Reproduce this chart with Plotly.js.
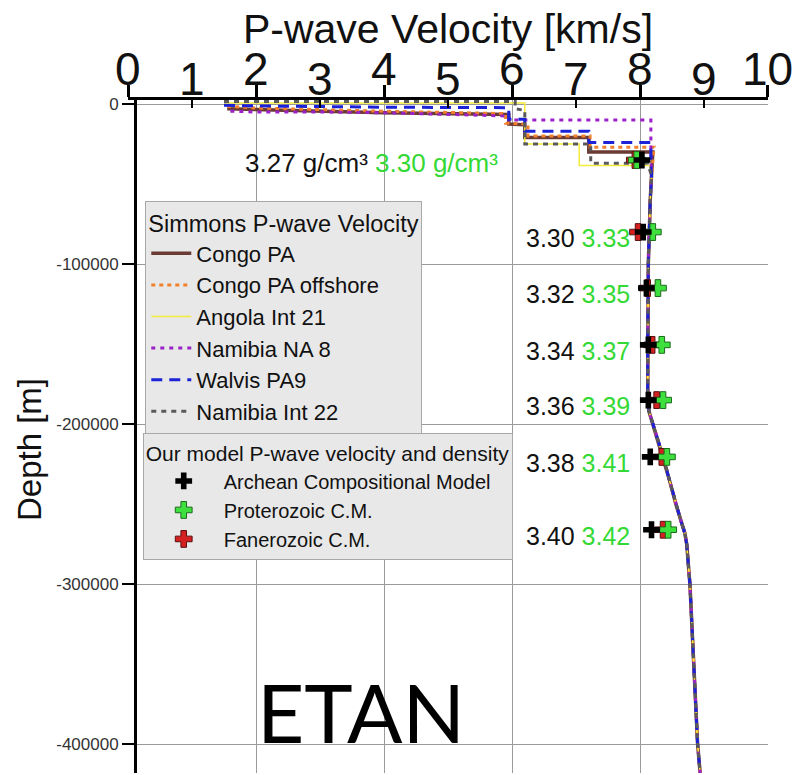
<!DOCTYPE html>
<html>
<head>
<meta charset="utf-8">
<script src="https://cdn.plot.ly/plotly-3.0.1.min.js"></script>
<style>html,body{margin:0;padding:0;background:#fff;}#chart{width:792px;height:775px;}</style>
</head>
<body>
<div id="chart"></div>
<script>
// ---- Simmons P-wave velocity profiles (velocity km/s, depth m) ----
const velCongoPA = [1.55, 2.0, 4.0, 5.95, 5.95, 6.2, 6.2, 7.2, 7.2, 8.2];
const depCongoPA = [-3000, -3500, -5500, -6500, -12500, -13000, -21000, -21000, -30000, -30000];

const velCongoOff = [1.55, 2.0, 4.0, 5.9, 5.9, 6.25, 6.25, 7.22, 7.22, 8.22];
const depCongoOff = [-1500, -2500, -4500, -6000, -12000, -12500, -20000, -20000, -27000, -27000];

const velAngola = [1.5, 6.2, 6.2, 7.05, 7.05, 8.15];
const depAngola = [700, 700, -25000, -25000, -38500, -38500];

const velNamibiaNA8 = [1.6, 2.0, 3.0, 4.0, 5.0, 5.95, 5.95, 8.17, 8.17];
const depNamibiaNA8 = [-4500, -5000, -5000, -5500, -6500, -7500, -10000, -10000, -30000];

const velWalvis = [1.5, 2.0, 4.0, 5.95, 5.95, 6.2, 6.2, 7.2, 7.2, 8.17, 8.17];
const depWalvis = [-800, -1200, -2000, -2300, -9500, -9500, -17000, -17000, -24000, -24000, -35000];

const velNamibiaInt22 = [1.5, 6.05, 6.05, 6.2, 6.2, 7.23, 7.23, 8.12];
const depNamibiaInt22 = [1500, 1500, -3000, -4000, -25000, -25000, -37000, -37000];

// common mantle part
const velMantle = [8.18, 8.16, 8.13, 8.12, 8.12, 8.14, 8.2, 8.28, 8.36, 8.46, 8.56, 8.65, 8.70, 8.73, 8.78, 8.84, 8.90, 8.94];
const depMantle = [-45000, -60000, -100000, -150000, -185000, -192000, -200000, -210000, -220000, -235000, -250000, -262000, -268000, -275000, -300000, -350000, -400000, -418000];

// ---- Our model markers ----
const markerDepth = [-35000, -80000, -115000, -150500, -185000, -220500, -266000];
const velArchean = [8.03, 8.05, 8.10, 8.13, 8.13, 8.16, 8.18];
const velProterozoic = [7.95, 8.20, 8.28, 8.34, 8.36, 8.42, 8.44];
const velFanerozoic = [7.92, 7.97, 8.12, 8.19, 8.26, 8.34, 8.36];
const densArchean = ['3.27', '3.30', '3.32', '3.34', '3.36', '3.38', '3.40'];
const densProterozoic = ['3.30', '3.33', '3.35', '3.37', '3.39', '3.41', '3.42'];

// ---- axis ticks ----
const xMajorTicks = [0, 2, 4, 6, 8, 10];
const xMinorTicks = [1, 3, 5, 7, 9];
const yTicks = [0, -100000, -200000, -300000, -400000];
const yTickLabels = ['0', '-100000', '-200000', '-300000', '-400000'];

const FONT = 'Liberation Sans, Arial, sans-serif';
const GREEN = '#35d935';

function profile(name, v, d, color, width, dash) {
  return {
    type: 'scatter', mode: 'lines', name: name,
    x: v.concat(velMantle), y: d.concat(depMantle),
    line: {color: color, width: width, dash: dash},
    legend: 'legend', showlegend: true, hoverinfo: 'skip'
  };
}

const traces = [
  profile('Congo PA', velCongoPA, depCongoPA, '#6b3a32', 3.5, 'solid'),
  profile('Congo PA offshore', velCongoOff, depCongoOff, '#f0802c', 3, '4px,4px'),
  profile('Angola Int 21', velAngola, depAngola, '#f3ec3a', 1.5, 'solid'),
  profile('Namibia NA 8', velNamibiaNA8, depNamibiaNA8, '#9b22c8', 3, '4px,5px'),
  profile('Walvis PA9', velWalvis, depWalvis, '#1c22d6', 3, '11px,7px'),
  profile('Namibia Int 22', velNamibiaInt22, depNamibiaInt22, '#5a5a5a', 3, '5px,5px'),
  {type: 'scatter', mode: 'markers', name: 'Fanerozoic C.M.', x: velFanerozoic, y: markerDepth,
   marker: {symbol: 'cross', size: 14, color: '#d42020', line: {color: '#5a1010', width: 1}},
   legend: 'legend2', legendrank: 3, hoverinfo: 'skip'},
  {type: 'scatter', mode: 'markers', name: 'Proterozoic C.M.', x: velProterozoic, y: markerDepth,
   marker: {symbol: 'cross', size: 14, color: '#3de03d', line: {color: '#1d6a1d', width: 1}},
   legend: 'legend2', legendrank: 2, hoverinfo: 'skip'},
  {type: 'scatter', mode: 'markers', name: 'Archean Compositional Model', x: velArchean, y: markerDepth,
   marker: {symbol: 'cross', size: 14, color: '#000000', line: {color: '#000000', width: 0}},
   legend: 'legend2', legendrank: 1, hoverinfo: 'skip'},
  {type: 'scatter', x: [], y: [], xaxis: 'x2', yaxis: 'y', showlegend: false, hoverinfo: 'skip'}
];

const densityLabels = markerDepth.map((d, i) => {
  const unit = i === 0 ? ' g/cm³' : '';
  return {
    x: i === 0 ? 5.81 : 7.87, y: d, xref: 'x', yref: 'y',
    xanchor: 'right', yanchor: 'middle', yshift: i === 0 ? -3 : -6,
    showarrow: false,
    text: densArchean[i] + unit + ' <span style="color:' + GREEN + '">' + densProterozoic[i] + unit + '</span>',
    font: {family: FONT, size: i === 0 ? 26 : 25, color: '#111'}
  };
});

// x tick labels (staggered: major labels raised, minor labels lower)
const tickLabelFont = {family: FONT, size: 46, color: '#111'};
const majorLabels = xMajorTicks.map(v => ({
  x: v, y: 1.046, xref: 'x', yref: 'paper', xanchor: 'center', yanchor: 'middle',
  showarrow: false, text: String(v), font: tickLabelFont
}));
const minorLabels = xMinorTicks.map(v => ({
  x: v, y: 1.0315, xref: 'x', yref: 'paper', xanchor: 'center', yanchor: 'middle',
  showarrow: false, text: String(v), font: tickLabelFont
}));

const layout = {
  width: 792, height: 775,
  margin: {l: 128, r: 24, t: 100, b: 2},
  paper_bgcolor: '#ffffff', plot_bgcolor: '#ffffff',
  font: {family: FONT, color: '#111'},
  title: {text: 'P-wave Velocity [km/s]', font: {family: FONT, size: 41, color: '#111'},
          x: 0.5, xref: 'paper', xanchor: 'center', y: 0.9625, yref: 'container', yanchor: 'middle'},
  xaxis: {
    side: 'top', range: [-0.0001, 10.0001], tickvals: xMajorTicks,
    ticks: 'outside', ticklen: 12, tickwidth: 3, tickcolor: '#000', showticklabels: false,
    showline: true, linewidth: 3, linecolor: '#000',
    showgrid: true, gridcolor: '#9a9a9a', gridwidth: 1, zeroline: false, anchor: 'y'
  },
  xaxis2: {
    side: 'top', overlaying: 'x', matches: 'x', tickvals: xMinorTicks,
    ticks: 'inside', ticklen: 8, tickwidth: 2, tickcolor: '#000', showticklabels: false,
    showline: false, showgrid: false, zeroline: false, anchor: 'y'
  },
  yaxis: {
    range: [-418000, 2500], tickvals: yTicks, ticktext: yTickLabels,
    ticks: 'outside', ticklen: 12, tickwidth: 2, tickcolor: '#000',
    showline: true, linewidth: 2.5, linecolor: '#000',
    anchor: 'free', position: 0.011,
    showgrid: true, gridcolor: '#9a9a9a', gridwidth: 1, zeroline: false,
    tickfont: {family: FONT, size: 17, color: '#333'}
  },
  legend: {
    x: 0.027, y: 0.85, xanchor: 'left', yanchor: 'top', xref: 'paper', yref: 'paper',
    bgcolor: '#e8e8e8', bordercolor: '#a8a8a8', borderwidth: 1,
    font: {family: FONT, size: 22, color: '#111'},
    title: {text: 'Simmons P-wave Velocity', font: {family: FONT, size: 23.5, color: '#111'}},
    itemwidth: 40, tracegroupgap: 0
  },
  legend2: {
    x: 0.023, y: 0.505, xanchor: 'left', yanchor: 'top', xref: 'paper', yref: 'paper',
    bgcolor: '#e8e8e8', bordercolor: '#a8a8a8', borderwidth: 1,
    font: {family: FONT, size: 20, color: '#111'},
    title: {text: 'Our model P-wave velocity and density', font: {family: FONT, size: 21, color: '#111'}},
    itemwidth: 70, tracegroupgap: 0
  },
  annotations: densityLabels.concat(majorLabels, minorLabels, [
    {x: -0.153, y: 0.48, xref: 'paper', yref: 'paper', xanchor: 'center', yanchor: 'middle',
     textangle: -90, showarrow: false, text: 'Depth [m]', font: {family: FONT, size: 33, color: '#111'}},
    {x: 0.364, y: 0.092, xref: 'paper', yref: 'paper', xanchor: 'center', yanchor: 'middle',
     showarrow: false, text: 'ETAN', font: {family: 'Lato, Liberation Sans, sans-serif', size: 82, color: '#000'}}
  ]),
  showlegend: true
};

Plotly.newPlot('chart', traces, layout, {staticPlot: true, displayModeBar: false});
</script>
</body>
</html>
